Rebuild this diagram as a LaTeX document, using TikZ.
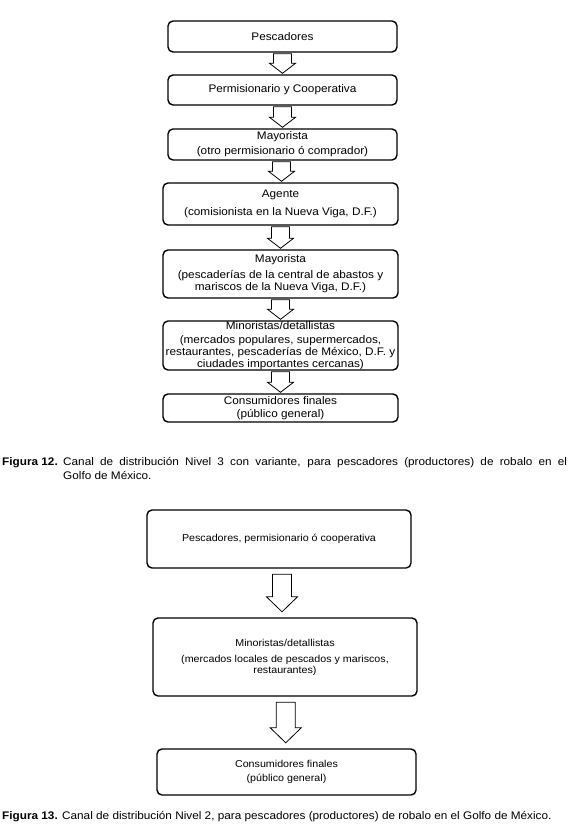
\documentclass[tikz,border=0pt]{standalone}
\usepackage{fontspec}
\setmainfont{Liberation Sans}[FakeStretch=1.07]
\usetikzlibrary{calc}

\newcommand{\blockarrow}[6]{%
  \draw[arrowline] let \p1=(#1.south), \p2=(#2.north), \p3=($(#1.south)!0.5!(#2.north)$) in
    (\x3-#3pt,\y1-#6pt) -- (\x3-#3pt,\y2+#6pt+#5pt) -- (\x3-#4pt,\y2+#6pt+#5pt) -- (\x3,\y2+#6pt)
    -- (\x3+#4pt,\y2+#6pt+#5pt) -- (\x3+#3pt,\y2+#6pt+#5pt) -- (\x3+#3pt,\y1-#6pt) -- cycle;}

\begin{document}
\begin{tikzpicture}[x=1pt, y=-1pt,
    box/.style={draw, line width=1.4pt, rounded corners=5pt, align=center, inner sep=0pt,
        font=\fontsize{11}{12}\selectfont},
    boxwide/.style={box, minimum width=229pt},
    boxlow/.style={box, minimum width=235pt},
    boxb/.style={box, font=\fontsize{10}{11}\selectfont},
    arrowline/.style={line width=0.8pt, line join=miter},
    caption/.style={inner sep=0pt, font=\fontsize{11}{14}\selectfont}]
    \useasboundingbox (0,0) rectangle (571,826);
    \node[boxwide, minimum height=31pt] (pesc) at (282.5,36.5) {Pescadores};
    \node[boxwide, minimum height=30pt] (perm) at (282.5,90) {Permisionario y Cooperativa};
    \node[boxwide, minimum height=31pt] (mayor) at (282.5,144.5) {Mayorista\\[3pt](otro permisionario ó comprador)};
    \node[boxlow, minimum height=42pt] (agente) at (280.5,204) {Agente\\[6pt](comisionista en la Nueva Viga, D.F.)};
    \node[boxlow, minimum height=48pt] (mayorc) at (280.5,274) {Mayorista\\[4pt](pescaderías de la central de abastos y\\mariscos de la Nueva Viga, D.F.)};
    \node[boxlow, minimum height=49pt] (minor) at (280.5,345.5) {Minoristas/detallistas\\[2pt](mercados populares, supermercados,\\restaurantes, pescaderías de México, D.F. y\\ciudades importantes cercanas)};
    \node[boxlow, minimum height=28pt] (consum) at (280.5,408) {Consumidores finales\\[1pt](público general)};
    \blockarrow{pesc}{perm}{9}{13}{10}{1}
    \blockarrow{perm}{mayor}{9}{13}{10}{1}
    \blockarrow{mayor}{agente}{9}{13}{10}{1}
    \blockarrow{agente}{mayorc}{9}{13}{10}{1}
    \blockarrow{mayorc}{minor}{9}{13}{10}{1}
    \blockarrow{minor}{consum}{9}{13}{10}{1}
    \node[caption, anchor=base west, font=\bfseries\fontsize{11}{14}\selectfont] (figdoce) at (2,465) {Figura 12.};
    \node[caption, anchor=north west, text width=504pt, align=justify] (capdoce) at (63,457)
        {Canal de distribución Nivel 3 con variante, para pescadores (productores) de robalo en el\linebreak Golfo de México.};
    \node[boxb, minimum width=264pt, minimum height=58pt] (pescperm) at (279,539) {Pescadores, permisionario ó cooperativa};
    \node[boxb, minimum width=264pt, minimum height=78pt] (minorb) at (285,657) {Minoristas/detallistas\\[5pt](mercados locales de pescados y mariscos,\\restaurantes)};
    \node[boxb, minimum width=259pt, minimum height=46pt] (consumb) at (286.5,772) {Consumidores finales\\[3pt](público general)};
    \blockarrow{pescperm}{minorb}{9.5}{15.5}{15}{5.5}
    \blockarrow{minorb}{consumb}{9.5}{15.5}{15}{5.5}
    \node[caption, anchor=base west] (captrece) at (2,819) {\textbf{Figura 13.} Canal de distribución Nivel 2, para pescadores (productores) de robalo en el Golfo de México.};
\end{tikzpicture}
\end{document}
